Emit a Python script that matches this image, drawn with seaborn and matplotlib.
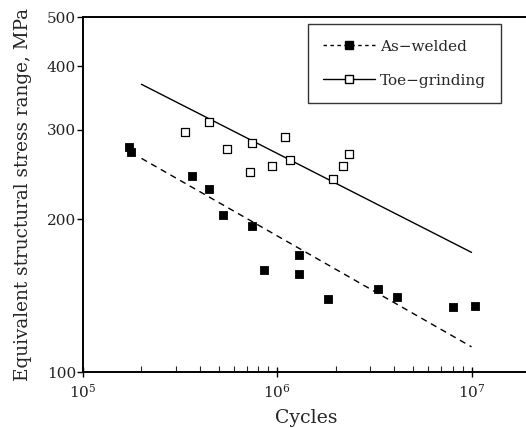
import numpy as np
import pandas as pd
import matplotlib
matplotlib.use("Agg")
import matplotlib.pyplot as plt
import seaborn as sns
from matplotlib.lines import Line2D
from matplotlib.ticker import FixedLocator, NullLocator, NullFormatter

# As-welded test results (cycles, MPa)
aw_cycles = [1.73e5, 1.77e5, 3.65e5, 4.44e5, 5.27e5, 7.43e5, 1.30e6,
             8.50e5, 1.29e6, 1.82e6, 3.30e6, 4.14e6, 8.01e6, 1.04e7]
aw_stress = [277.7, 271.5, 242.8, 228.8, 203.7, 194.2, 169.9,
             158.6, 155.8, 139.5, 145.5, 140.7, 134.5, 135.1]

# Toe-grinding test results
tg_cycles = [3.36e5, 4.45e5, 5.54e5, 7.40e5, 1.09e6, 7.26e5,
             9.37e5, 1.16e6, 1.94e6, 2.18e6, 2.33e6]
tg_stress = [296.5, 310.5, 275.4, 282.3, 289.7, 247.2,
             254.4, 261.9, 240.2, 254.1, 269.0]

# fitted S-N lines (end points)
fit_cycles = [2.0e5, 1.0e7]
aw_fit = [263.4, 112.1]
tg_fit = [368.5, 172.0]

y_ticks = [100, 200, 300, 400, 500]

aw = pd.DataFrame({"cycles": aw_cycles, "stress": aw_stress})
tg = pd.DataFrame({"cycles": tg_cycles, "stress": tg_stress})
fit = pd.DataFrame({"cycles": fit_cycles, "aw": aw_fit, "tg": tg_fit})

sns.set_style("ticks")
plt.rcParams["font.family"] = ["DejaVu Serif"]
plt.rcParams["mathtext.fontset"] = "dejavuserif"

fig = plt.figure(figsize=(5.26, 4.28), dpi=100)
ax = fig.add_axes([83 / 526, 56 / 428, 447 / 526, 355 / 428])

sns.lineplot(data=fit, x="cycles", y="aw", ax=ax, color="black", lw=1.0)
ax.lines[-1].set_linestyle((0, (4.5, 3.5)))
sns.lineplot(data=fit, x="cycles", y="tg", ax=ax, color="black", lw=1.0)
sns.scatterplot(data=aw, x="cycles", y="stress", ax=ax, marker="s", s=34,
                color="black", edgecolor="black", linewidth=0.6, zorder=3)
sns.scatterplot(data=tg, x="cycles", y="stress", ax=ax, marker="s", s=28,
                facecolor="white", edgecolor="black", linewidth=0.9, zorder=3)

ax.set_xscale("log")
ax.set_yscale("log")
ax.set_xlim(1e5, 2e7)
ax.set_ylim(100, 500)

ax.yaxis.set_major_locator(FixedLocator(y_ticks))
ax.set_yticklabels([str(v) for v in y_ticks])
ax.yaxis.set_minor_locator(NullLocator())
ax.yaxis.set_minor_formatter(NullFormatter())
ax.set_xticks([1e5, 1e6, 1e7])
ax.set_xticklabels([r"$10^{5}$", r"$10^{6}$", r"$10^{7}$"])

ax.tick_params(axis="both", which="major", direction="out", length=4,
               width=1.0, labelsize=11, color="black", labelcolor="#222222")
ax.tick_params(axis="y", which="major", pad=1)
ax.tick_params(axis="x", which="minor", direction="in", length=4, width=0.8)
ax.tick_params(axis="x", which="major", direction="inout", length=7, pad=4)

for side in ["left", "bottom", "top"]:
    ax.spines[side].set_linewidth(1.4)
    ax.spines[side].set_color("black")
ax.spines["right"].set_visible(False)

ax.set_xlabel("Cycles", fontsize=13.6, labelpad=6)
ax.set_ylabel("Equivalent structural stress range, MPa", fontsize=13.2,
              labelpad=11)

handles = [
    Line2D([], [], color="black", lw=1.0, linestyle=(0, (2.5, 2.5)),
           marker="s", markersize=6, markerfacecolor="black",
           markeredgecolor="black"),
    Line2D([], [], color="black", lw=1.0, marker="s", markersize=6,
           markerfacecolor="white", markeredgecolor="black"),
]
leg = ax.legend(handles, ["As\u2212welded", "Toe\u2212grinding"],
                loc="upper right", bbox_to_anchor=(418 / 447, 0.979),
                fontsize=11, frameon=True, fancybox=False, handlelength=3.4,
                handletextpad=0.3, borderpad=1.0, labelspacing=1.3,
                borderaxespad=0.0)
leg.get_frame().set_edgecolor("black")
leg.get_frame().set_linewidth(1.0)

fig.savefig("out.png", dpi=100)
